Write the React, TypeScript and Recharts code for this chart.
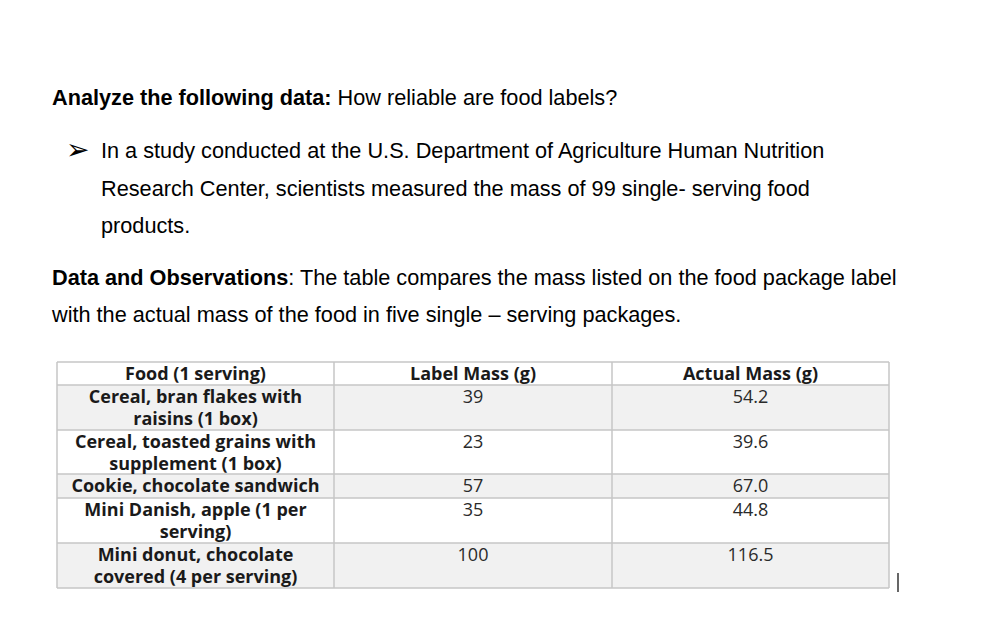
import React from "react";
import { Surface, Layer, Rectangle, Text } from "recharts";

const foods: string[][] = [
  ["Cereal, bran flakes with", "raisins (1 box)"],
  ["Cereal, toasted grains with", "supplement (1 box)"],
  ["Cookie, chocolate sandwich"],
  ["Mini Danish, apple (1 per", "serving)"],
  ["Mini donut, chocolate", "covered (4 per serving)"],
];
const labelMass: string[] = ["39", "23", "57", "35", "100"];
const actualMass: string[] = ["54.2", "39.6", "67.0", "44.8", "116.5"];
const headers: string[] = ["Food (1 serving)", "Label Mass (g)", "Actual Mass (g)"];

const bodyFont = "'Liberation Sans', Arial, sans-serif";
const tableFont = "'Open Sans', Lato, sans-serif";
const BODY_SIZE = 21.7;
const TABLE_SIZE = 18;

const colX = [57, 334, 612, 889];
const rowY = [362, 385, 430, 474, 498, 543, 588];

export default function App() {
  return (
    <div style={{ position: "absolute", left: 0, top: 0, width: 1000, height: 624, background: "#fff" }}>
      <Surface width={1000} height={624} viewBox={{ x: 0, y: 0, width: 1000, height: 624 }}>
        <rect x={0} y={0} width={1000} height={624} fill="#ffffff" />
        <Layer>
          <text x={52} y={105} fontFamily={bodyFont} fontSize={BODY_SIZE} fill="#000">
            <tspan fontWeight="bold">Analyze the following data:</tspan>
            <tspan> How reliable are food labels?</tspan>
          </text>
          <text x={66} y={159} fontFamily="'DejaVu Sans', sans-serif" fontSize={28} fill="#000">➢</text>
          <text x={101} y={158} fontFamily={bodyFont} fontSize={BODY_SIZE} fill="#000">
            In a study conducted at the U.S. Department of Agriculture Human Nutrition
          </text>
          <text x={101} y={196} fontFamily={bodyFont} fontSize={BODY_SIZE} fill="#000">
            Research Center, scientists measured the mass of 99 single- serving food
          </text>
          <text x={101} y={233} fontFamily={bodyFont} fontSize={BODY_SIZE} fill="#000">
            products.
          </text>
          <text x={52} y={285} fontFamily={bodyFont} fontSize={BODY_SIZE} fill="#000">
            <tspan fontWeight="bold">Data and Observations</tspan>
            <tspan>: The table compares the mass listed on the food package label</tspan>
          </text>
          <text x={52} y={322} fontFamily={bodyFont} fontSize={BODY_SIZE} fill="#000">
            with the actual mass of the food in five single – serving packages.
          </text>
        </Layer>
        <Layer>
          {rowY.slice(0, -1).map((y, i) => (
            <Rectangle
              key={`row-${i}`}
              x={colX[0]}
              y={y}
              width={colX[3] - colX[0]}
              height={rowY[i + 1] - y}
              fill={i % 2 === 1 ? "#f1f1f1" : "#ffffff"}
              stroke="none"
            />
          ))}
          {rowY.map((y, i) => (
            <line key={`h-${i}`} x1={colX[0]} x2={colX[3]} y1={y} y2={y} stroke="#c6c6c6" strokeWidth={1.5} />
          ))}
          {colX.map((x, i) => (
            <line key={`v-${i}`} x1={x} x2={x} y1={rowY[0]} y2={rowY[6]} stroke="#c6c6c6" strokeWidth={1.5} />
          ))}
          {headers.map((h, i) => (
            <Text
              key={`hd-${i}`}
              x={(colX[i] + colX[i + 1]) / 2}
              y={380}
              textAnchor="middle"
              verticalAnchor="end"
              fontFamily={tableFont}
              fontWeight="bold"
              fontSize={TABLE_SIZE}
              fill="#1a1a1a"
            >
              {h}
            </Text>
          ))}
          {foods.map((lines, r) =>
            lines.map((ln, k) => (
              <Text
                key={`f-${r}-${k}`}
                x={(colX[0] + colX[1]) / 2}
                y={rowY[r + 1] + 18 + k * 22}
                textAnchor="middle"
                verticalAnchor="end"
                fontFamily={tableFont}
                fontWeight="bold"
                fontSize={TABLE_SIZE}
                fill="#1a1a1a"
              >
                {ln}
              </Text>
            ))
          )}
          {labelMass.map((v, r) => (
            <Text
              key={`l-${r}`}
              x={(colX[1] + colX[2]) / 2}
              y={rowY[r + 1] + 18}
              textAnchor="middle"
              verticalAnchor="end"
              fontFamily={tableFont}
              fontSize={TABLE_SIZE}
              fill="#2a2a2a"
            >
              {v}
            </Text>
          ))}
          {actualMass.map((v, r) => (
            <Text
              key={`a-${r}`}
              x={(colX[2] + colX[3]) / 2}
              y={rowY[r + 1] + 18}
              textAnchor="middle"
              verticalAnchor="end"
              fontFamily={tableFont}
              fontSize={TABLE_SIZE}
              fill="#2a2a2a"
            >
              {v}
            </Text>
          ))}
          <line x1={898} x2={898} y1={573} y2={592} stroke="#000" strokeWidth={1.2} />
        </Layer>
      </Surface>
    </div>
  );
}
